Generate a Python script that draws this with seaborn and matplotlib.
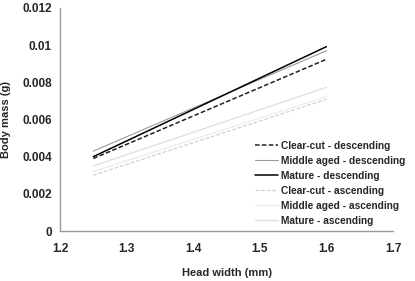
import matplotlib
matplotlib.use("Agg")
import matplotlib.pyplot as plt
import seaborn as sns
import pandas as pd

head_width = [1.25, 1.6]
series = ["Clear-cut - descending", "Middle aged - descending", "Mature - descending",
          "Clear-cut - ascending", "Middle aged - ascending", "Mature - ascending"]
clear_desc = [0.0039, 0.00924]
middle_desc = [0.0043, 0.0097]
mature_desc = [0.0040, 0.00992]
clear_asc = [0.0030, 0.00709]
middle_asc = [0.0032, 0.00723]
mature_asc = [0.0035, 0.00773]
values = [clear_desc, middle_desc, mature_desc, clear_asc, middle_asc, mature_asc]

rows = []
for name, vals in zip(series, values):
    for x, v in zip(head_width, vals):
        rows.append({"Head width (mm)": x, "Body mass (g)": v, "series": name})
df = pd.DataFrame(rows)

sns.set_theme(style="white")
plt.rcParams['font.family'] = ['Liberation Sans', 'DejaVu Sans']

colors = ["#222222", "#9a9a9a", "#000000", "#d0d0d0", "#ececec", "#dedede"]
dashes = [(3, 1.5), "", "", (3, 1.5), "", ""]
widths = [1.1, 0.8, 1.1, 0.9, 0.9, 0.9]

fig = plt.figure(figsize=(4.15, 2.81), dpi=100)
ax = fig.add_axes([60/415, 50/281, 333/415, 223/281])
for name, vals, c, d, w in zip(series, values, colors, dashes, widths):
    sub = df[df["series"] == name]
    sns.lineplot(data=sub, x="Head width (mm)", y="Body mass (g)", ax=ax,
                 color=c, linewidth=w, label=name, legend=False)
    line = ax.get_lines()[-1]
    if d:
        line.set_dashes(d)

ax.set_xlim(1.2, 1.7)
ax.set_ylim(0, 0.012)
ax.set_xticks([1.2, 1.3, 1.4, 1.5, 1.6, 1.7])
ax.set_xticklabels(["1.2", "1.3", "1.4", "1.5", "1.6", "1.7"])
ax.set_yticks([0, 0.002, 0.004, 0.006, 0.008, 0.01, 0.012])
ax.set_yticklabels(["0", "0.002", "0.004", "0.006", "0.008", "0.01", "0.012"])
for s in ["top", "right"]:
    ax.spines[s].set_visible(False)
for s in ["left", "bottom"]:
    ax.spines[s].set_color("#999999")
    ax.spines[s].set_linewidth(1.0)
ax.tick_params(axis="both", which="major", direction="out", length=3, width=0.8,
               color="#999999", labelsize=8.5)
ax.tick_params(axis="x", pad=6)
ax.tick_params(axis="y", pad=3)
for lab in ax.get_xticklabels() + ax.get_yticklabels():
    lab.set_fontweight("bold")
ax.set_xlabel("Head width (mm)", fontsize=8, fontweight="bold", labelpad=9)
ax.set_ylabel("Body mass (g)", fontsize=8, fontweight="bold", labelpad=8)

handles, labels = ax.get_legend_handles_labels()
leg = ax.legend(handles, labels, loc="upper left", bbox_to_anchor=(0.585, 0.405),
                frameon=False, fontsize=7.3, handlelength=2.3, handletextpad=0.3,
                labelspacing=0.5, borderaxespad=0, borderpad=0)
for t in leg.get_texts():
    t.set_fontweight("bold")

fig.savefig("out.png", dpi=100)
